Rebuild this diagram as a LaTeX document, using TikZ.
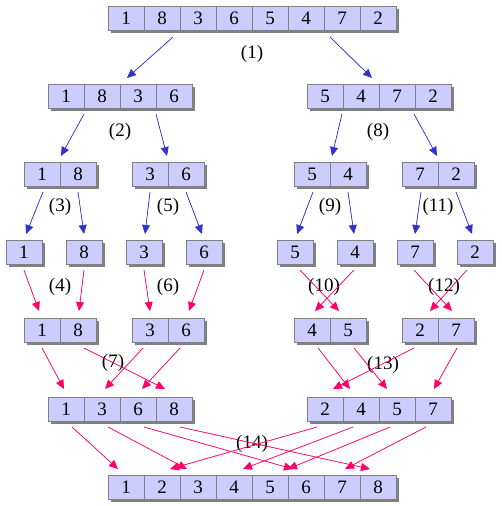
\documentclass[tikz,border=0pt]{standalone}
\usepackage{fontspec}
\setmainfont{Liberation Serif}
\usetikzlibrary{arrows.meta}
\definecolor{cellfill}{RGB}{204,204,255}
\definecolor{cellline}{RGB}{128,128,128}
\definecolor{shadowc}{RGB}{128,128,128}
\definecolor{splitc}{RGB}{51,51,204}
\definecolor{mergec}{RGB}{255,0,102}
\tikzset{
  cell/.style={draw=cellline, line width=1pt, fill=cellfill, minimum width=36pt, minimum height=24pt, inner sep=0pt, font=\fontsize{19}{21}\selectfont},
  lbl/.style={inner sep=0pt, font=\fontsize{19}{21}\selectfont},
  splitarrow/.style={draw=splitc, line width=0.7pt, -{Triangle[length=9pt,width=8pt]}, fill=splitc},
  mergearrow/.style={draw=mergec, line width=0.7pt, -{Triangle[length=9pt,width=8pt]}, fill=mergec},
}
\newcommand\cellarray[4]{%
  \foreach \v [count=\i] in {#4} {\fill[shadowc] ({#2+36*(\i-1)+3},{#3+3}) rectangle ++(36,24);}
  \foreach \v [count=\i] in {#4} {\node[cell] (#1-\i) at ({#2+36*(\i-1)+18},{#3+12}) {\v};}
}
\begin{document}
\begin{tikzpicture}[x=1pt,y=-1pt]
\useasboundingbox (0,0) rectangle (501,506);
% level 1
\cellarray{A}{108}{6}{1,8,3,6,5,4,7,2}
% level 2
\cellarray{BL}{48}{84}{1,8,3,6}
\cellarray{BR}{307}{84}{5,4,7,2}
% level 3
\cellarray{CA}{24}{162}{1,8}
\cellarray{CB}{132}{162}{3,6}
\cellarray{CC}{294}{162}{5,4}
\cellarray{CD}{402}{162}{7,2}
% level 4
\cellarray{DA}{6}{240}{1}
\cellarray{DB}{66}{240}{8}
\cellarray{DC}{126}{240}{3}
\cellarray{DD}{186}{240}{6}
\cellarray{DE}{277}{240}{5}
\cellarray{DF}{337}{240}{4}
\cellarray{DG}{397}{240}{7}
\cellarray{DH}{457}{240}{2}
% level 5
\cellarray{EA}{24}{318}{1,8}
\cellarray{EB}{132}{318}{3,6}
\cellarray{EC}{294}{318}{4,5}
\cellarray{ED}{402}{318}{2,7}
% level 6
\cellarray{FL}{48}{397}{1,3,6,8}
\cellarray{FR}{307}{397}{2,4,5,7}
% level 7
\cellarray{G}{108}{475}{1,2,3,4,5,6,7,8}
% labels
\node[lbl] (l1) at (252,54) {(1)};
\node[lbl] (l2) at (120,132) {(2)};
\node[lbl] (l8) at (378,132) {(8)};
\node[lbl] (l3) at (60,207) {(3)};
\node[lbl] (l5) at (168,207) {(5)};
\node[lbl] (l9) at (330,207) {(9)};
\node[lbl] (l11) at (438,207) {(11)};
\node[lbl] (l4) at (60,287) {(4)};
\node[lbl] (l6) at (168,287) {(6)};
\node[lbl] (l10) at (324,287) {(10)};
\node[lbl] (l12) at (444,287) {(12)};
\node[lbl] (l7) at (113,363) {(7)};
\node[lbl] (l13) at (383,365) {(13)};
\node[lbl] (l14) at (252,444) {(14)};
% split arrows
\foreach \a/\b/\c/\d [count=\k] in {173/37/127/78, 330/37/372/78,
  84/114/61/156, 156/114/167/156, 342/114/332/156, 414/114/437/156,
  43/192/26/234, 78/192/84/234, 150/192/145/234, 186/192/202/234,
  313/192/297/234, 348/192/354/234, 421/192/415/234, 456/192/472/234} {
  \coordinate (ss\k) at (\a,\b);
  \coordinate (st\k) at (\c,\d);
  \draw[splitarrow] (ss\k) -- (st\k);
}
% merge arrows
\foreach \a/\b/\c/\d [count=\k] in {24/270/39/311, 84/270/79/311, 144/270/150/311, 204/270/189/311,
  300/270/339/311, 354/270/315/311, 414/270/452/311, 467/270/430/311,
  42/348/64/389, 84/348/165/389, 143/348/105/389, 180/348/142/389,
  318/348/350/389, 354/348/387/389, 414/348/333/389, 457/348/434/389,
  72/427/118/469, 108/427/187/469, 144/427/293/469, 180/427/370/469,
  317/427/170/469, 353/427/243/469, 390/427/288/469, 426/427/345/469} {
  \coordinate (ms\k) at (\a,\b);
  \coordinate (mt\k) at (\c,\d);
  \draw[mergearrow] (ms\k) -- (mt\k);
}
\end{tikzpicture}
\end{document}
